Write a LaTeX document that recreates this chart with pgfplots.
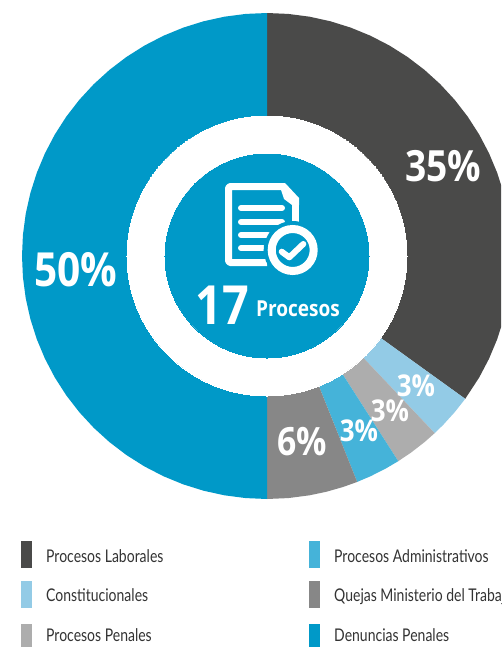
\documentclass[border=0pt]{standalone}
\usepackage{pgfplots}
\usepackage{fontspec}
\pgfplotsset{compat=1.18}
\usepgfplotslibrary{polar}
\setmainfont{Lato}
\newfontfamily\lgf[FakeStretch=0.80]{Lato}
\newfontfamily\bdf[FakeStretch=0.865]{Open Sans}
\definecolor{cLab}{HTML}{4A4A49}
\definecolor{cCon}{HTML}{93CBE6}
\definecolor{cPen}{HTML}{ADADAD}
\definecolor{cAdm}{HTML}{45B3D9}
\definecolor{cQue}{HTML}{878787}
\definecolor{cDen}{HTML}{0099C8}
\begin{document}
\begin{tikzpicture}[x=1pt,y=-1pt]
\path[use as bounding box] (0,0) rectangle (501,647);
\clip (0,0) rectangle (501,647);
\begin{polaraxis}[
  at={(267pt,-256pt)}, anchor=center,
  scale only axis, width=490pt, height=486pt,
  xmin=0, xmax=360, ymin=0, ymax=243,
  hide axis, clip=false
]
% Shares: 35, 3, 3, 3, 6, 50 per cent; clockwise from the top
\addplot[fill=cLab,draw=none] coordinates {(0,0)(90,243)(85,243)(80,243)(75,243)(70,243)(65,243)(60,243)(55,243)(50,243)(45,243)(40,243)(35,243)(30,243)(25,243)(20,243)(15,243)(10,243)(5,243)(0,243)(-5,243)(-10,243)(-15,243)(-20,243)(-25,243)(-30,243)(-36,243)} -- cycle;
\addplot[fill=cCon,draw=none] coordinates {(0,0)(-36,243)(-40,243)(-44,243)(-46.8,243)} -- cycle;
\addplot[fill=cPen,draw=none] coordinates {(0,0)(-46.8,243)(-50,243)(-54,243)(-57.6,243)} -- cycle;
\addplot[fill=cAdm,draw=none] coordinates {(0,0)(-57.6,243)(-61,243)(-65,243)(-68.4,243)} -- cycle;
\addplot[fill=cQue,draw=none] coordinates {(0,0)(-68.4,243)(-72,243)(-76,243)(-80,243)(-85,243)(-90,243)} -- cycle;
\addplot[fill=cDen,draw=none] coordinates {(0,0)(-90,243)(-95,243)(-100,243)(-105,243)(-110,243)(-115,243)(-120,243)(-125,243)(-130,243)(-135,243)(-140,243)(-145,243)(-150,243)(-155,243)(-160,243)(-165,243)(-170,243)(-175,243)(-180,243)(-185,243)(-190,243)(-195,243)(-200,243)(-205,243)(-210,243)(-215,243)(-220,243)(-225,243)(-230,243)(-235,243)(-240,243)(-245,243)(-250,243)(-255,243)(-260,243)(-265,243)(-270,243)} -- cycle;
\addplot[only marks,mark=*,mark size=140pt,draw=white,fill=white,mark options={fill=white,draw=white,line width=0pt}] coordinates {(0,0)};
\addplot[only marks,mark=*,mark size=102pt,draw=cDen,fill=cDen,mark options={fill=cDen,draw=cDen,line width=0pt}] coordinates {(0,0)};
\end{polaraxis}
% percentage labels
\node[text=white,font=\bdf\bfseries\fontsize{43}{43}\selectfont,anchor=center] at (443,166) {35\%};
\node[text=white,font=\bdf\bfseries\fontsize{47}{47}\selectfont,anchor=center] at (76,270) {50\%};
\node[text=white,font=\bdf\bfseries\fontsize{39}{39}\selectfont,anchor=center] at (302,442) {6\%};
\node[text=white,font=\bdf\bfseries\fontsize{30}{30}\selectfont,anchor=center] at (416,386) {3\%};
\node[text=white,font=\bdf\bfseries\fontsize{30}{30}\selectfont,anchor=center] at (390,411) {3\%};
\node[text=white,font=\bdf\bfseries\fontsize{30}{30}\selectfont,anchor=center] at (359,431) {3\%};
% centre text
\node[text=white,font=\bdf\bfseries\fontsize{54}{54}\selectfont,anchor=base,inner sep=0pt] at (222,324) {17};
\node[text=white,font=\bdf\bfseries\fontsize{22}{22}\selectfont,anchor=base west,inner sep=0pt] at (256,316) {Procesos};
% icon
\draw[white,line width=7pt,line join=round,line cap=butt,rounded corners=1.5pt]
  (267,262.5) -- (228.5,262.5) -- (228.5,186.5) -- (281,186.5);
\draw[white,line width=7pt,line cap=butt] (295.5,222) -- (295.5,203);
\fill[white] (278,183) -- (285,183) -- (299,198) -- (299,205) -- (292,205) -- (284,199) -- (281,190) -- cycle;
\draw[white,line width=6pt,line cap=round] (241,208) -- (282,208);
\draw[white,line width=6pt,line cap=round] (241,222) -- (282,222);
\draw[white,line width=6pt,line cap=round] (241,235) -- (268,235);
\draw[white,line width=6pt,line cap=round] (241,248) -- (263,248);
\fill[cDen] (292.7,250) circle (29);
\draw[white,line width=8pt] (292.7,250) circle (21);
\draw[white,line width=6pt,line cap=round,line join=round] (281.7,251.7) -- (289.3,257.3) -- (303.3,244);
% legend
\fill[cLab] (21,541) rectangle (32,568);
\fill[cCon] (21,581) rectangle (32,608);
\fill[cPen] (21,624) rectangle (32,647);
\fill[cAdm] (309,541) rectangle (320,568);
\fill[cQue] (309,581) rectangle (320,608);
\fill[cDen] (309,624) rectangle (320,647);
\def\lgt#1#2#3{\node[text=black!80,font=\lgf\fontsize{17.5}{17.5}\selectfont,anchor=base west,inner sep=0pt] at (#1,#2) {#3};}
\lgt{46}{562}{Procesos Laborales}
\lgt{46}{601}{Constitucionales}
\lgt{46}{641}{Procesos Penales}
\lgt{334}{562}{Procesos Administrativos}
\lgt{334}{601}{Quejas Ministerio del Trabajo}
\lgt{334}{641}{Denuncias Penales}
\end{tikzpicture}
\end{document}
